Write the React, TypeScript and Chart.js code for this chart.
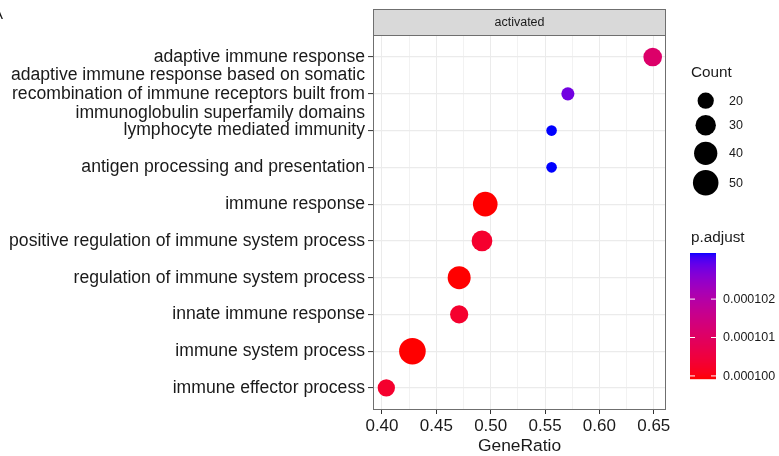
import { useEffect, useRef } from 'react';
import { Chart, registerables } from 'chart.js';

Chart.register(...registerables);

// ---------------- data ----------------
const facetLabel = 'activated';
const categories: (string | string[])[] = [
  'adaptive immune response',
  [
    'adaptive immune response based on somatic',
    'recombination of immune receptors built from',
    'immunoglobulin superfamily domains',
  ],
  'lymphocyte mediated immunity',
  'antigen processing and presentation',
  'immune response',
  'positive regulation of immune system process',
  'regulation of immune system process',
  'innate immune response',
  'immune system process',
  'immune effector process',
];
const geneRatio = [0.649, 0.571, 0.556, 0.556, 0.495, 0.492, 0.471, 0.471, 0.428, 0.404];
const counts = [25, 16, 15, 15, 46, 31, 39, 24, 55, 22];
const pAdjust = [
  0.0001011, 0.0001028, 0.0001032, 0.0001032, 0.00009992, 0.0001003, 0.00009992,
  0.0001003, 0.00009992, 0.0001003,
];
const xMajorTicks = [0.4, 0.45, 0.5, 0.55, 0.6, 0.65];
const xMinorTicks = [0.425, 0.475, 0.525, 0.575, 0.625];
const sizeBreaks = [20, 30, 40, 50];
const colorBreaks = [0.0001, 0.000101, 0.000102];
const colorBreakLabels = ['0.000100', '0.000101', '0.000102'];
const xTitle = 'GeneRatio';
const sizeTitle = 'Count';
const colorTitle = 'p.adjust';

// ---------------- helpers ----------------
const FONT = '"Liberation Sans", Arial, Helvetica, sans-serif';
const f = (s: number) => `${s}px ${FONT}`;

function toLin(c: number) {
  c /= 255;
  return c <= 0.04045 ? c / 12.92 : Math.pow((c + 0.055) / 1.055, 2.4);
}
function fromLin(c: number) {
  const v = c <= 0.0031308 ? 12.92 * c : 1.055 * Math.pow(c, 1 / 2.4) - 0.055;
  return Math.round(Math.max(0, Math.min(1, v)) * 255);
}
const Xn = 0.95047, Yn = 1.0, Zn = 1.08883;
function rgbToLab(rgb: number[]) {
  const [R, G, B] = rgb.map(toLin);
  const X = 0.4124 * R + 0.3576 * G + 0.1805 * B;
  const Y = 0.2126 * R + 0.7152 * G + 0.0722 * B;
  const Z = 0.0193 * R + 0.1192 * G + 0.9505 * B;
  const ff = (t: number) => (t > 0.008856 ? Math.cbrt(t) : 7.787 * t + 16 / 116);
  const fx = ff(X / Xn), fy = ff(Y / Yn), fz = ff(Z / Zn);
  return [116 * fy - 16, 500 * (fx - fy), 200 * (fy - fz)];
}
function labToRgb(lab: number[]) {
  const [L, a, b] = lab;
  const fy = (L + 16) / 116;
  const fx = fy + a / 500;
  const fz = fy - b / 200;
  const inv = (t: number) => (t * t * t > 0.008856 ? t * t * t : (t - 16 / 116) / 7.787);
  const X = Xn * inv(fx), Y = Yn * inv(fy), Z = Zn * inv(fz);
  const R = 3.2406 * X - 1.5372 * Y - 0.4986 * Z;
  const G = -0.9689 * X + 1.8758 * Y + 0.0415 * Z;
  const B = 0.0557 * X - 0.204 * Y + 1.057 * Z;
  return [fromLin(R), fromLin(G), fromLin(B)];
}
const labLow = rgbToLab([255, 0, 0]);
const labHigh = rgbToLab([0, 0, 255]);
const pMin = Math.min(...pAdjust);
const pMax = Math.max(...pAdjust);
function colorAt(t: number) {
  const tt = Math.max(0, Math.min(1, t));
  const lab = labLow.map((v, i) => v + (labHigh[i] - v) * tt);
  const [r, g, b] = labToRgb(lab);
  return `rgb(${r},${g},${b})`;
}
const pColor = (p: number) => colorAt((p - pMin) / (pMax - pMin));

const cMin = Math.min(...counts);
const cMax = Math.max(...counts);
const R_MIN = 5.3, R_MAX = 13.3;
const radius = (c: number) =>
  R_MIN + (R_MAX - R_MIN) * Math.sqrt(Math.max(0, (c - cMin) / (cMax - cMin)));

const gMin = Math.min(...geneRatio);
const gMax = Math.max(...geneRatio);
const xMin = gMin - 0.05 * (gMax - gMin);
const xMax = gMax + 0.05 * (gMax - gMin);
const isMajor = (v: number) => xMajorTicks.some((m) => Math.abs(m - v) < 1e-9);

const overlay = {
  id: 'overlay',
  afterDraw(chart: any) {
    const { ctx, chartArea: a } = chart;
    ctx.save();
    // panel border
    ctx.strokeStyle = '#6f6f6f';
    ctx.lineWidth = 1;
    ctx.strokeRect(a.left + 0.5, a.top + 0.5, a.right - a.left - 1, a.bottom - a.top - 1);
    // strip
    const sTop = 9;
    ctx.fillStyle = '#D9D9D9';
    ctx.fillRect(a.left, sTop, a.right - a.left, a.top - sTop);
    ctx.strokeRect(a.left + 0.5, sTop + 0.5, a.right - a.left - 1, a.top - sTop);
    ctx.fillStyle = '#1A1A1A';
    ctx.font = f(12.5);
    ctx.textAlign = 'center';
    ctx.textBaseline = 'middle';
    ctx.fillText(facetLabel, (a.left + a.right) / 2, (sTop + a.top) / 2 + 0.5);
    // x title
    ctx.font = f(17.4);
    ctx.fillText(xTitle, (a.left + a.right) / 2, 446.5);
    // panel tag
    ctx.textAlign = 'left';
    ctx.font = f(15);
    ctx.fillText('A', -7, 15);

    // size legend
    ctx.font = f(15.3);
    ctx.fillText(sizeTitle, 691, 73);
    const keyY = [100.7, 125.3, 153.3, 182.7];
    sizeBreaks.forEach((c, i) => {
      ctx.beginPath();
      ctx.fillStyle = '#000';
      ctx.arc(705.7, keyY[i], radius(c), 0, Math.PI * 2);
      ctx.fill();
      ctx.fillStyle = '#1A1A1A';
      ctx.font = f(12.5);
      ctx.fillText(String(c), 729, keyY[i] + 0.5);
    });

    // colour bar
    ctx.font = f(15.3);
    ctx.fillStyle = '#1A1A1A';
    ctx.fillText(colorTitle, 691, 238);
    const bx = 690, bw = 26, bTop = 253, bBot = 379;
    const h = bBot - bTop;
    for (let y = 0; y < h; y++) {
      const t = 1 - (y + 0.5) / h;
      ctx.fillStyle = colorAt(t);
      ctx.fillRect(bx, bTop + y, bw, 1.2);
    }
    ctx.strokeStyle = '#ffffff';
    ctx.lineWidth = 1;
    ctx.font = f(12.5);
    colorBreaks.forEach((p, i) => {
      const y = bBot - ((p - pMin) / (pMax - pMin)) * h;
      ctx.beginPath();
      ctx.moveTo(bx, y);
      ctx.lineTo(bx + 5, y);
      ctx.moveTo(bx + bw - 5, y);
      ctx.lineTo(bx + bw, y);
      ctx.stroke();
      ctx.fillStyle = '#1A1A1A';
      ctx.fillText(colorBreakLabels[i], 723, y + 0.5);
    });
    ctx.restore();
  },
};

export default function App() {
  const ref = useRef<HTMLCanvasElement>(null);
  useEffect(() => {
    if (!ref.current) return;
    const data = categories.map((_, i) => ({
      x: geneRatio[i],
      y: i,
      r: radius(counts[i]),
    }));
    const chart = new Chart(ref.current, {
      type: 'bubble',
      data: {
        datasets: [
          {
            data,
            backgroundColor: pAdjust.map(pColor),
            borderWidth: 0,
            hoverBorderWidth: 0,
          } as any,
        ],
      },
      plugins: [overlay],
      options: {
        animation: false,
        responsive: false,
        maintainAspectRatio: false,
        layout: { padding: { top: 35, right: 113, left: 0, bottom: 0 } },
        plugins: { legend: { display: false }, tooltip: { enabled: false } },
        events: [],
        scales: {
          x: {
            type: 'linear',
            min: xMin,
            max: xMax,
            afterBuildTicks: (scale: any) => {
              scale.ticks = [...xMajorTicks, ...xMinorTicks]
                .sort((p, q) => p - q)
                .map((v) => ({ value: v }));
            },
            afterFit: (scale: any) => {
              scale.height = 46;
            },
            border: { display: false },
            grid: {
              color: (c: any) => (c.tick && isMajor(c.tick.value) ? '#EBEBEB' : '#F2F2F2'),
              lineWidth: 1,
              drawTicks: true,
              tickLength: 4,
              tickColor: (c: any) => (c.tick && isMajor(c.tick.value) ? '#333333' : 'rgba(0,0,0,0)'),
              tickWidth: 1,
            },
            ticks: {
              autoSkip: false,
              maxRotation: 0,
              padding: 2,
              color: '#1A1A1A',
              font: { family: FONT, size: 17 },
              callback: (v: any) => (isMajor(Number(v)) ? Number(v).toFixed(2) : ''),
            },
          },
          y: {
            type: 'linear',
            reverse: true,
            min: -0.6,
            max: categories.length - 1 + 0.6,
            afterBuildTicks: (scale: any) => {
              scale.ticks = categories.map((_, i) => ({ value: i }));
            },
            afterFit: (scale: any) => {
              scale.width = 373;
            },
            border: { display: false },
            grid: {
              color: '#EBEBEB',
              lineWidth: 1.2,
              drawTicks: true,
              tickLength: 5,
              tickColor: '#333333',
              tickWidth: 1,
            },
            ticks: {
              autoSkip: false,
              padding: 3,
              color: '#1A1A1A',
              font: { family: FONT, size: 17.6, lineHeight: 1.08 },
              callback: (v: any) => categories[Math.round(Number(v))] as any,
            },
          },
        },
      },
    });
    return () => chart.destroy();
  }, []);
  return (
    <div style={{ position: 'fixed', left: 0, top: 0, width: 779, height: 456, background: '#fff' }}>
      <canvas ref={ref} width={779} height={456} style={{ display: 'block' }} />
    </div>
  );
}
